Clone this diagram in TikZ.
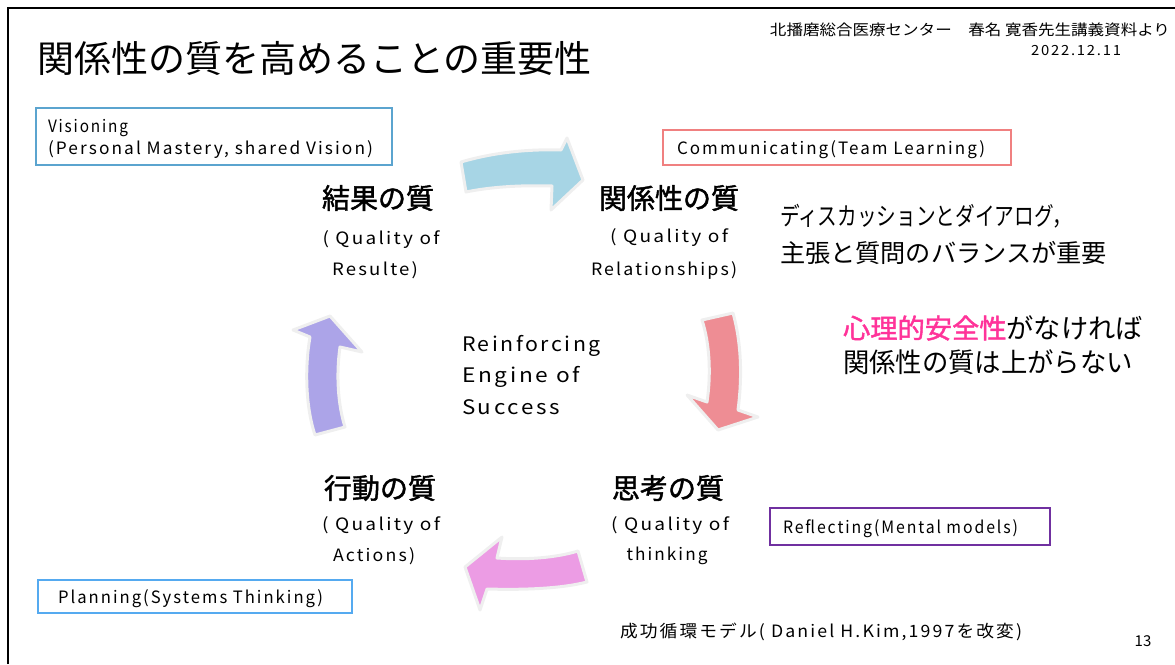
\documentclass[tikz,border=0pt]{standalone}
\usepackage{fontspec}
\usepackage{graphicx}
\setmainfont{Noto Sans CJK JP}
\newfontfamily\ls[LetterSpace=12]{Noto Sans CJK JP}
\newfontfamily\semib[FakeBold=1.6]{Noto Sans CJK JP}
\newcommand\fitto[2]{\resizebox{#1pt}{\height}{#2}}
\newcommand\lowr[1]{\raisebox{-2.5pt}[\height][\depth]{#1}}
\definecolor{visblue}{RGB}{91,164,207}
\definecolor{planblue}{RGB}{85,170,240}
\definecolor{comred}{RGB}{240,128,128}
\definecolor{refpurple}{RGB}{112,48,160}
\definecolor{arrowedge}{RGB}{239,239,239}
\definecolor{arblue}{RGB}{167,213,229}
\definecolor{arred}{RGB}{238,141,148}
\definecolor{arpurple}{RGB}{172,164,232}
\definecolor{armag}{RGB}{236,156,228}
\definecolor{pinktext}{RGB}{255,51,153}
\begin{document}
\begin{tikzpicture}[x=1pt,y=-1pt,
  every node/.style={inner sep=0pt, outer sep=0pt},
  arr/.style={draw=arrowedge, line width=3pt, line join=round},
  lbl/.style={font=\semib\fontsize{28}{32}\selectfont},
  sub/.style={font=\ls\fontsize{17}{20}\selectfont},
  eng/.style={anchor=west, font=\ls\fontsize{20}{24}\selectfont},
  boxed/.style={anchor=north west, line width=1.5pt, align=left, font=\ls\fontsize{17}{22}\selectfont},
  side/.style={anchor=west, font=\fontsize{25}{28}\selectfont}
]
\useasboundingbox (0,0) rectangle (1175,664);
% frame
\draw[line width=2pt] (8,664) -- (8,8) -- (1176,8);
% header
\node[anchor=west, font=\fontsize{37}{40}\selectfont] (title) at (37,58) {関係性の質を高めることの重要性};
\node[anchor=east, font=\fontsize{15}{18}\selectfont] (src) at (1170,30) {\fitto{400}{北播磨総合医療センター\quad 春名\ 寛香先生講義資料より}};
\node[font=\ls\fontsize{14}{16}\selectfont] (date) at (1076,51) {\fitto{90}{2022.12.11}};
% boxes
\node[boxed, draw=visblue, minimum height=57pt, text width=332pt, inner xsep=12pt] (vis) at (36,108)
  {\lowr{\fitto{80}{Visioning}}\\\lowr{\fitto{325}{(Personal Mastery, shared Vision)}}};
\node[boxed, draw=comred, minimum height=35pt, text width=320pt, inner xsep=14pt] (com) at (663,130)
  {\lowr{\fitto{308}{Communicating(Team Learning)}}};
\node[boxed, draw=refpurple, minimum height=37pt, text width=254pt, inner xsep=13pt] (refl) at (770,508)
  {\lowr{\fitto{235}{Reflecting(Mental models)}}};
\node[boxed, draw=planblue, minimum height=33pt, text width=274pt, inner xsep=20pt] (plan) at (38,580)
  {\lowr{\fitto{265}{Planning(Systems Thinking)}}};
% cycle labels
\node[lbl] (res) at (378,198) {結果の質};
\node[sub] (res1) at (381,240) {\fitto{117}{( Quality of}};
\node[sub] (res2) at (375,270) {\fitto{86}{Resulte)}};
\node[lbl] (rel) at (669,198) {関係性の質};
\node[sub] (rel1) at (669,238) {\fitto{118}{( Quality of}};
\node[sub] (rel2) at (664,270) {\fitto{146}{Relationships)}};
\node[lbl] (thi) at (668,488) {思考の質};
\node[sub] (thi1) at (670,526) {\fitto{118}{( Quality of}};
\node[sub] (thi2) at (667,556) {\fitto{81}{thinking}};
\node[lbl] (act) at (380,488) {行動の質};
\node[sub] (act1) at (381,526) {\fitto{118}{( Quality of}};
\node[sub] (act2) at (374,556) {\fitto{82}{Actions)}};
% centre
\node[eng] (e1) at (462,346) {\fitto{139}{Reinforcing}};
\node[eng] (e2) at (462,377) {\fitto{118}{Engine of}};
\node[eng] (e3) at (462,407) {\fitto{98}{Success}};
% right side comments
\node[side] (s1) at (780,216) {\fitto{292}{ディスカッションとダイアログ，}};
\node[side] (s2) at (780,253) {\fitto{327}{主張と質問のバランスが重要}};
\node[side, font=\fontsize{27}{30}\selectfont] (s3) at (843,328) {\fitto{300}{{\color{pinktext}\semib 心理的安全性}がなければ}};
\node[side, font=\fontsize{27}{30}\selectfont] (s4) at (843,362) {\fitto{290}{関係性の質は上がらない}};
% footer
\node[anchor=west, font=\ls\fontsize{17}{20}\selectfont] (foot) at (620,632) {\fitto{402}{成功循環モデル( Daniel H.Kim,1997を改変)}};
\node[font=\fontsize{15}{18}\selectfont] (page) at (1143,641) {13};
% block arrows
\path[arr, fill=arblue] (461,162) .. controls (495,152) and (530,149) .. (561,150) -- (567,138) -- (583,180) -- (551,210) -- (552,186) .. controls (520,185) and (490,187) .. (466,192) -- cycle;
\path[arr, fill=arred] (702,320) -- (733,313) .. controls (742,345) and (742,380) .. (738,410) -- (758,417) -- (718,430) -- (687,395) -- (707,402) .. controls (711,375) and (710,345) .. (702,320) -- cycle;
\path[arr, fill=armag] (465,567) -- (502,537) -- (497,558) .. controls (525,560) and (555,558) .. (578,551) -- (587,582) .. controls (560,589) and (520,590) .. (487,589) -- (480,610) -- cycle;
\path[arr, fill=arpurple] (315,435) .. controls (305,405) and (305,365) .. (310,337) -- (293,330) -- (330,316) -- (362,352) -- (340,347) .. controls (336,375) and (338,405) .. (345,427) -- cycle;
\end{tikzpicture}
\end{document}
